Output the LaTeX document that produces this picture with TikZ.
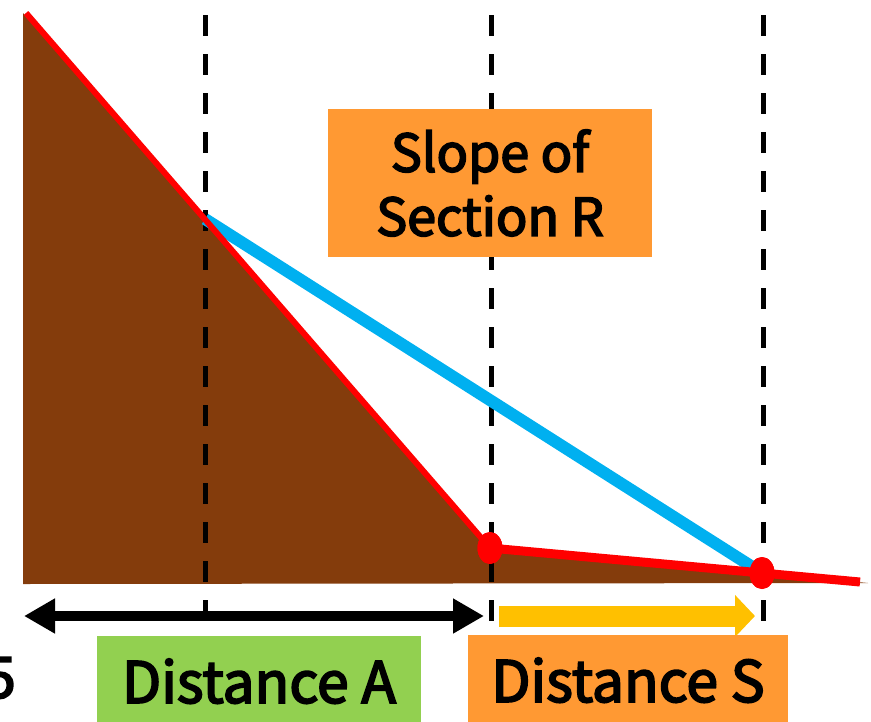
\documentclass[tikz,border=0pt]{standalone}
\usepackage{fontspec}
\setmainfont{Noto Sans CJK JP}
\newfontfamily\lblfont{Noto Sans CJK JP}[FakeBold=3.2]
\usetikzlibrary{arrows.meta, positioning, shapes.geometric}
\definecolor{cbrown}{HTML}{843C0C}
\definecolor{cred}{HTML}{FF0000}
\definecolor{cblue}{HTML}{00B0F0}
\definecolor{cyellow}{HTML}{FFC000}
\definecolor{cgreen}{HTML}{92D050}
\definecolor{corange}{HTML}{FF9933}
\tikzset{
  every picture/.style={x=1pt, y=-1pt},
  label box/.style={fill=#1, align=center, inner sep=0pt, font=\lblfont\fontsize{57}{64}\selectfont},
  label box/.default=corange,
  guide/.style={draw=black, line width=5pt, dash pattern=on 21pt off 18pt},
  dot/.style={ellipse, fill=cred, inner sep=0pt, minimum width=25pt, minimum height=32pt},
  profile/.style={draw=cred, line width=6pt, line join=round},
  chord/.style={draw=cblue, line width=12pt},
}

\begin{document}
\begin{tikzpicture}
  \useasboundingbox (0,0) rectangle (871,721);
  % ground under the slope
  \fill[cbrown] (23,13) -- (490,548) -- (762,573) -- (868,583) -- (23,584) -- cycle;
  \foreach \x in {205, 491, 763}
    \draw[guide] (\x,15) -- (\x,636);
  \coordinate (peak) at (26,13);
  \coordinate (tail) at (860,582);
  \coordinate (pB) at (205,219);
  \node[dot] (dotR) at (490,548) {};
  \node[dot] (dotS) at (762,573) {};
  \draw[chord] (pB) -- (dotS.center);
  \draw[profile] (peak) -- (dotR.center);
  \draw[profile, line width=9pt] (dotR.center) -- (dotS.center) -- (tail);
  \node[dot] at (dotR) {};
  \node[dot] at (dotS) {};
  % distances
  \coordinate (aL) at (24,616);
  \coordinate (aR) at (484,616);
  \draw[line width=10pt, {Triangle[length=31pt, width=33pt]}-{Triangle[length=31pt, width=33pt]}] (aL) -- (aR);
  \coordinate (sL) at (499,616);
  \coordinate (sR) at (755,616);
  \draw[cyellow, line width=21pt, -{Triangle[length=20pt, width=41pt]}] (sL) -- (sR);
  \node[label box=cgreen, minimum width=324pt, minimum height=90pt, anchor=north] (distA) at (259,636) {Distance A};
  \node[label box, minimum width=320pt, minimum height=90pt, anchor=north] (distS) at (628,635) {Distance S};
  \node[label box, minimum width=324pt, minimum height=148pt, font=\lblfont\fontsize{52}{64}\selectfont] (slope) at (490,183) {Slope of\\Section R};
  \node[font=\lblfont\fontsize{57}{64}\selectfont, anchor=east, inner sep=0pt] (five) at (16,678) {5};
\end{tikzpicture}
\end{document}
